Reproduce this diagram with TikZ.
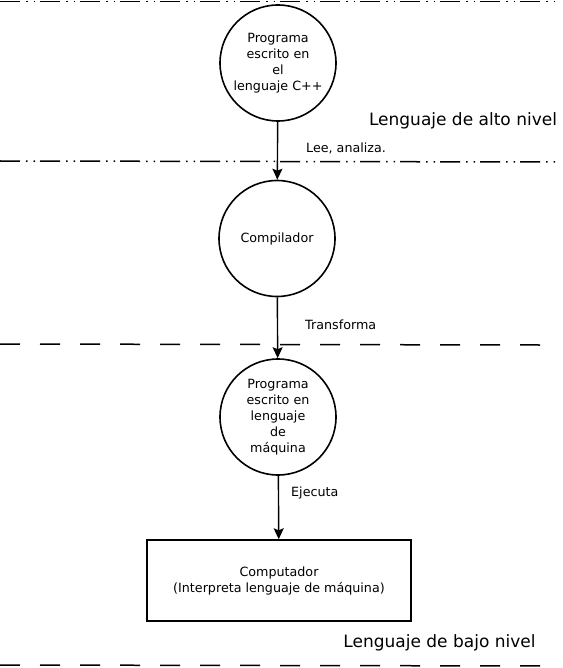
\documentclass[tikz,border=0pt]{standalone}
\usepackage{fontspec}
\setmainfont{DejaVu Sans}
\usetikzlibrary{arrows.meta}
\begin{document}
\begin{tikzpicture}[x=1pt,y=-1pt,
	etapa/.style={draw,circle,line width=1.6pt,minimum size=116pt,inner sep=0pt,align=center,font=\fontsize{12.7}{16}\selectfont},
	maquina/.style={draw,rectangle,line width=1.4pt,minimum width=264pt,minimum height=81pt,align=center,font=\fontsize{12.7}{16}\selectfont},
	flecha/.style={-{Stealth[length=11pt,width=10pt,inset=2pt]},line width=1.4pt},
	accion/.style={anchor=west,inner sep=0pt,font=\fontsize{12.7}{15}\selectfont},
	nivel/.style={inner sep=0pt,font=\fontsize{17}{20}\selectfont},
	rayapunto/.style={line width=1.5pt,dash pattern=on 20pt off 6pt on 1.5pt off 6pt on 1.5pt off 5pt},
	rayas/.style={line width=1.5pt,dash pattern=on 20pt off 20pt}]
	\useasboundingbox (0,0) rectangle (562,668);
	% niveles
	\draw [rayapunto] (0,1.5)-- (555,1.5);
	\draw [rayapunto] (0,161)-- (555,162);
	\draw [rayas] (0,344)-- (540,345);
	\draw [rayas] (0,665)-- (555,666);
	% etapas
	\node [etapa] (fuente) at (278,63) {Programa\\escrito en\\el\\lenguaje C++};
	\node [etapa] (compilador) at (277,238.5) {Compilador};
	\node [etapa] (objeto) at (278,417) {Programa\\escrito en\\lenguaje\\de\\máquina};
	\node [maquina] (computador) at (279,580.5) {Computador\\(Interpreta lenguaje de máquina)};
	% flechas
	\draw [flecha] (fuente)-- (compilador);
	\draw [flecha] (compilador)-- (objeto);
	\draw [flecha] (objeto)-- (computador);
	\node [accion] (lee) at (306,148) {Lee, analiza.};
	\node [accion] (transforma) at (305,325) {Transforma};
	\node [accion] (ejecuta) at (291,493) {Ejecuta};
	\node [nivel] (alto) at (463,121) {Lenguaje de alto nivel};
	\node [nivel] (bajo) at (439.5,643) {Lenguaje de bajo nivel};
\end{tikzpicture}
\end{document}
